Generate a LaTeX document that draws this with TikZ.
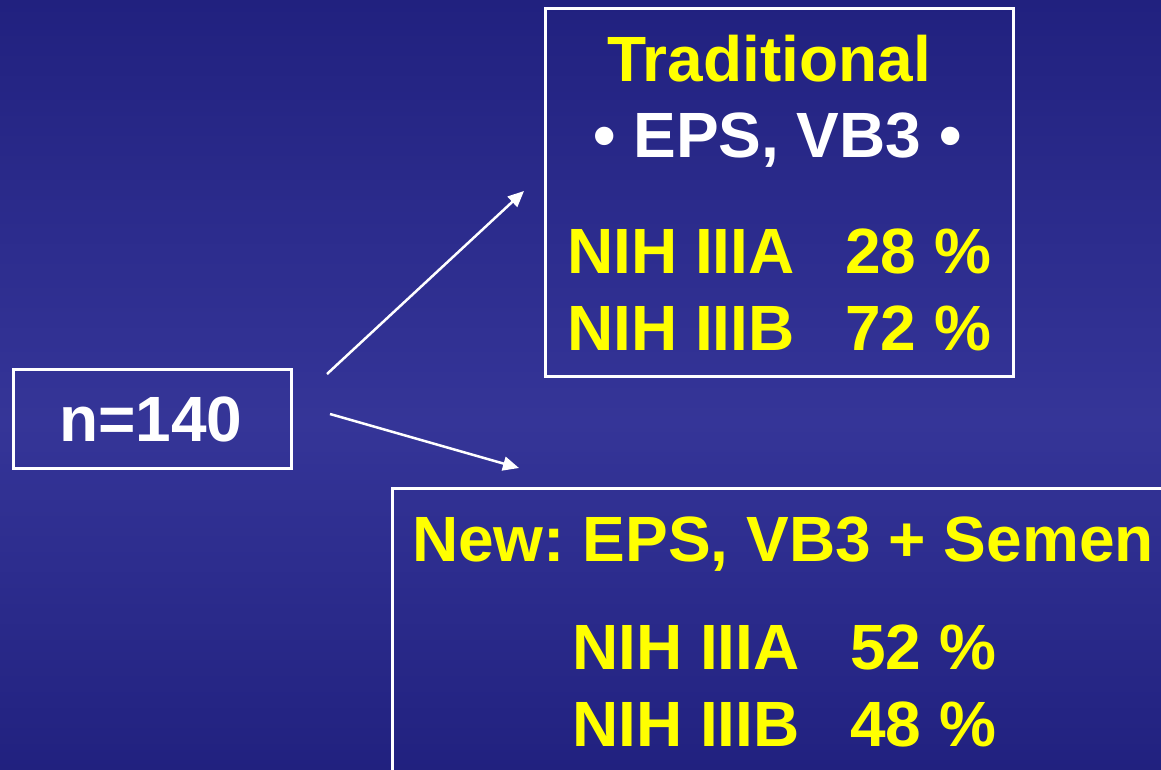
\documentclass[tikz,border=0pt]{standalone}
\usepackage{fontspec}
\setmainfont{Liberation Sans}
\usetikzlibrary{arrows.meta}
\definecolor{bgtop}{RGB}{33,33,127}
\definecolor{bgmid}{RGB}{53,53,152}
\definecolor{txtyellow}{RGB}{255,255,0}
\frenchspacing
\begin{document}
\begin{tikzpicture}[x=1pt,y=-1pt,
  frame/.style={draw=white, line width=3pt, inner sep=0pt, rectangle},
  lbl/.style={anchor=base west, inner sep=0pt, font=\bfseries\fontsize{64}{70}\selectfont, text=txtyellow},
  wlbl/.style={lbl, text=white},
  arr/.style={draw=white, line width=2.5pt, -{Triangle[length=16pt,width=14pt]}}]
\useasboundingbox (0,0) rectangle (1161,769);
\clip (0,0) rectangle (1161,769);
% background gradient: dark at top and bottom, lighter near y=420
\foreach \y in {0,4,...,768}{
  \pgfmathsetmacro{\p}{\y<420 ? \y/420*100 : (769-\y)/349*100}
  \colorlet{stripcol}{bgmid!\p!bgtop}
  \fill[stripcol] (0,\y-0.5) rectangle (1161,\y+4.5);
}
% boxes
\node[frame, minimum width=468pt, minimum height=368pt] (topbox) at (779.5,192.5) {};
\node[frame, minimum width=278pt, minimum height=99pt] (nbox) at (152,418.5) {};
\node[frame, minimum width=808pt, minimum height=312pt] (botbox) at (796,644) {};
% texts
\node[wlbl] (ntext) at (59,441) {n=140};
\node[lbl] (trad) at (607,81) {Traditional};
\node[wlbl] (eps) at (593,157) {• EPS, VB3 •};
\node[lbl] (a1) at (567,273) {NIH IIIA};
\node[lbl] (p1) at (845,273) {28 \%};
\node[lbl] (b1) at (567,350) {NIH IIIB};
\node[lbl] (q1) at (845,350) {72 \%};
\node[lbl] (new) at (412,561) {New: EPS, VB3 + Semen};
\node[lbl] (a2) at (572,669) {NIH IIIA};
\node[lbl] (p2) at (850,669) {52 \%};
\node[lbl] (b2) at (572,746) {NIH IIIB};
\node[lbl] (q2) at (850,746) {48 \%};
% arrows
\coordinate (s1) at (327,374);
\coordinate (e1) at (524,191);
\coordinate (s2) at (330,414);
\coordinate (e2) at (519,468);
\draw[arr] (s1) -- (e1);
\draw[arr] (s2) -- (e2);
\end{tikzpicture}
\end{document}
